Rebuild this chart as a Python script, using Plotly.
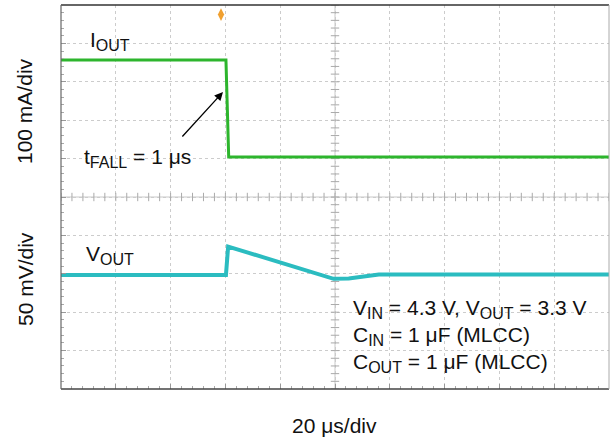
import plotly.graph_objects as go
import numpy as np

# ---- data (read from the scope capture) ----
# time in µs (20 µs/div, 10 divisions)
t_iout = [0, 60.2, 61.2, 200]
iout_mA = [253, 253, 0, 0]            # 100 mA/div

t_vout = [0, 60.2, 61.0, 99.5, 105, 110, 116, 130, 200]
vout_mV = [0, 0, 37, -5, -4.5, -2, 0.5, 0.5, 0.5]   # deviation from 3.3 V, 50 mV/div

trigger_t = [58.4]

x_range = [0, 200]
i_range = [-604, 396]
v_range = [-148.5, 351.5]

GREEN = "#2db52d"
CYAN = "#2bbcc0"
FONT = "Liberation Sans, Arial, sans-serif"

L, R, T, B = 61, 1, 5, 51
W, H = 610, 440
PW, PH = W - L - R, H - T - B


def px(xp):
    return (xp - L) / PW


def py(yp):
    return (T + PH - yp) / PH


def sub(s):
    return "<sub><span style='font-size:16px'>" + s + "</span></sub>"


fig = go.Figure()

# centre lines with minor ticks (decoration of the graticule)
xc = (x_range[0] + x_range[1]) / 2
ic = (i_range[0] + i_range[1]) / 2
fig.add_shape(type="line", xref="x", yref="paper", x0=xc, x1=xc, y0=0, y1=1,
              line=dict(color="#c8c8c8", width=1), layer="below")
fig.add_shape(type="line", xref="paper", yref="y", x0=0, x1=1, y0=ic, y1=ic,
              line=dict(color="#c8c8c8", width=1), layer="below")
minor_x = np.arange(x_range[0], x_range[1] + 0.1, 4)
fig.add_trace(go.Scatter(x=minor_x, y=[ic] * len(minor_x), mode="markers",
                         marker=dict(symbol="line-ns", size=6,
                                     line=dict(color="#aaaaaa", width=1)),
                         hoverinfo="skip", showlegend=False))
minor_y = np.arange(i_range[0], i_range[1] + 0.1, 20)
fig.add_trace(go.Scatter(x=[xc] * len(minor_y), y=minor_y, mode="markers",
                         marker=dict(symbol="line-ew", size=6,
                                     line=dict(color="#aaaaaa", width=1)),
                         hoverinfo="skip", showlegend=False))

# traces
fig.add_trace(go.Scatter(x=t_iout, y=iout_mA, mode="lines",
                         line=dict(color=GREEN, width=3), yaxis="y",
                         showlegend=False, hoverinfo="skip"))
fig.add_trace(go.Scatter(x=t_vout, y=vout_mV, mode="lines",
                         line=dict(color=CYAN, width=4), yaxis="y2",
                         showlegend=False, hoverinfo="skip"))

# trigger marker
fig.add_trace(go.Scatter(x=trigger_t, y=[i_range[1] - 25], mode="markers",
                         marker=dict(symbol="diamond-tall", size=9, color="#f0a030"),
                         cliponaxis=False, showlegend=False, hoverinfo="skip"))

# border
fig.add_shape(type="line", xref="paper", yref="paper", x0=0, x1=1, y0=1, y1=1,
              line=dict(color="#333333", width=1.5))
fig.add_shape(type="line", xref="paper", yref="paper", x0=0, x1=1, y0=0, y1=0,
              line=dict(color="#444444", width=1.5))
fig.add_shape(type="line", xref="paper", yref="paper", x0=0, x1=0, y0=0, y1=1,
              line=dict(color="#666666", width=1.2))
fig.add_shape(type="line", xref="paper", yref="paper", x0=1, x1=1, y0=0, y1=1,
              line=dict(color="#aaaaaa", width=1))

f = dict(family=FONT, size=21, color="#111111")

ann = [
    dict(text="I" + sub("OUT"), x=px(88), y=py(41), xanchor="left", yanchor="middle"),
    dict(text="t" + sub("FALL") + " = 1 μs", x=px(82), y=py(158), xanchor="left", yanchor="middle"),
    dict(text="V" + sub("OUT"), x=px(84), y=py(255), xanchor="left", yanchor="middle"),
    dict(text="V" + sub("IN") + " = 4.3 V, V" + sub("OUT") + " = 3.3 V", x=px(351), y=py(309),
         xanchor="left", yanchor="middle"),
    dict(text="C" + sub("IN") + " = 1 μF (MLCC)", x=px(351), y=py(336),
         xanchor="left", yanchor="middle"),
    dict(text="C" + sub("OUT") + " = 1 μF (MLCC)", x=px(351), y=py(363),
         xanchor="left", yanchor="middle"),
    dict(text="20 μs/div", x=px(334), y=py(425), xanchor="center", yanchor="middle"),
    dict(text="100 mA/div", x=px(25), y=py(111), xanchor="center", yanchor="middle",
         textangle=-90),
    dict(text="50 mV/div", x=px(25), y=py(279), xanchor="center", yanchor="middle",
         textangle=-90),
]
for a in ann:
    a.update(xref="paper", yref="paper", showarrow=False, font=f)
ann.append(dict(x=px(223), y=py(92), xref="paper", yref="paper", text="",
                showarrow=True, arrowhead=2, arrowsize=1.3, arrowwidth=1.3,
                arrowcolor="#000000", ax=-42, ay=46))

fig.update_layout(
    width=W, height=H,
    margin=dict(l=L, r=R, t=T, b=B),
    paper_bgcolor="white", plot_bgcolor="white",
    annotations=ann,
    xaxis=dict(range=x_range, dtick=20, tick0=0, showgrid=True,
               gridcolor="#cccccc", griddash="dot", gridwidth=1,
               showticklabels=False, zeroline=False, showline=False,
               ticks="inside", ticklen=5, tickcolor="#999999",
               minor=dict(dtick=4, ticks="inside", ticklen=3, tickcolor="#aaaaaa")),
    yaxis=dict(range=i_range, dtick=100, tick0=i_range[0], showgrid=True,
               gridcolor="#cccccc", griddash="dot", gridwidth=1,
               showticklabels=False, zeroline=False, showline=False,
               ticks="inside", ticklen=5, tickcolor="#999999",
               minor=dict(dtick=20, tick0=i_range[0], ticks="inside", ticklen=3,
                          tickcolor="#aaaaaa")),
    yaxis2=dict(range=v_range, overlaying="y", showgrid=False,
                showticklabels=False, zeroline=False, showline=False, ticks=""),
)

fig.write_html("out.html", config={"displayModeBar": False},
               post_script="document.body.style.margin='0';document.body.style.padding='0';")
